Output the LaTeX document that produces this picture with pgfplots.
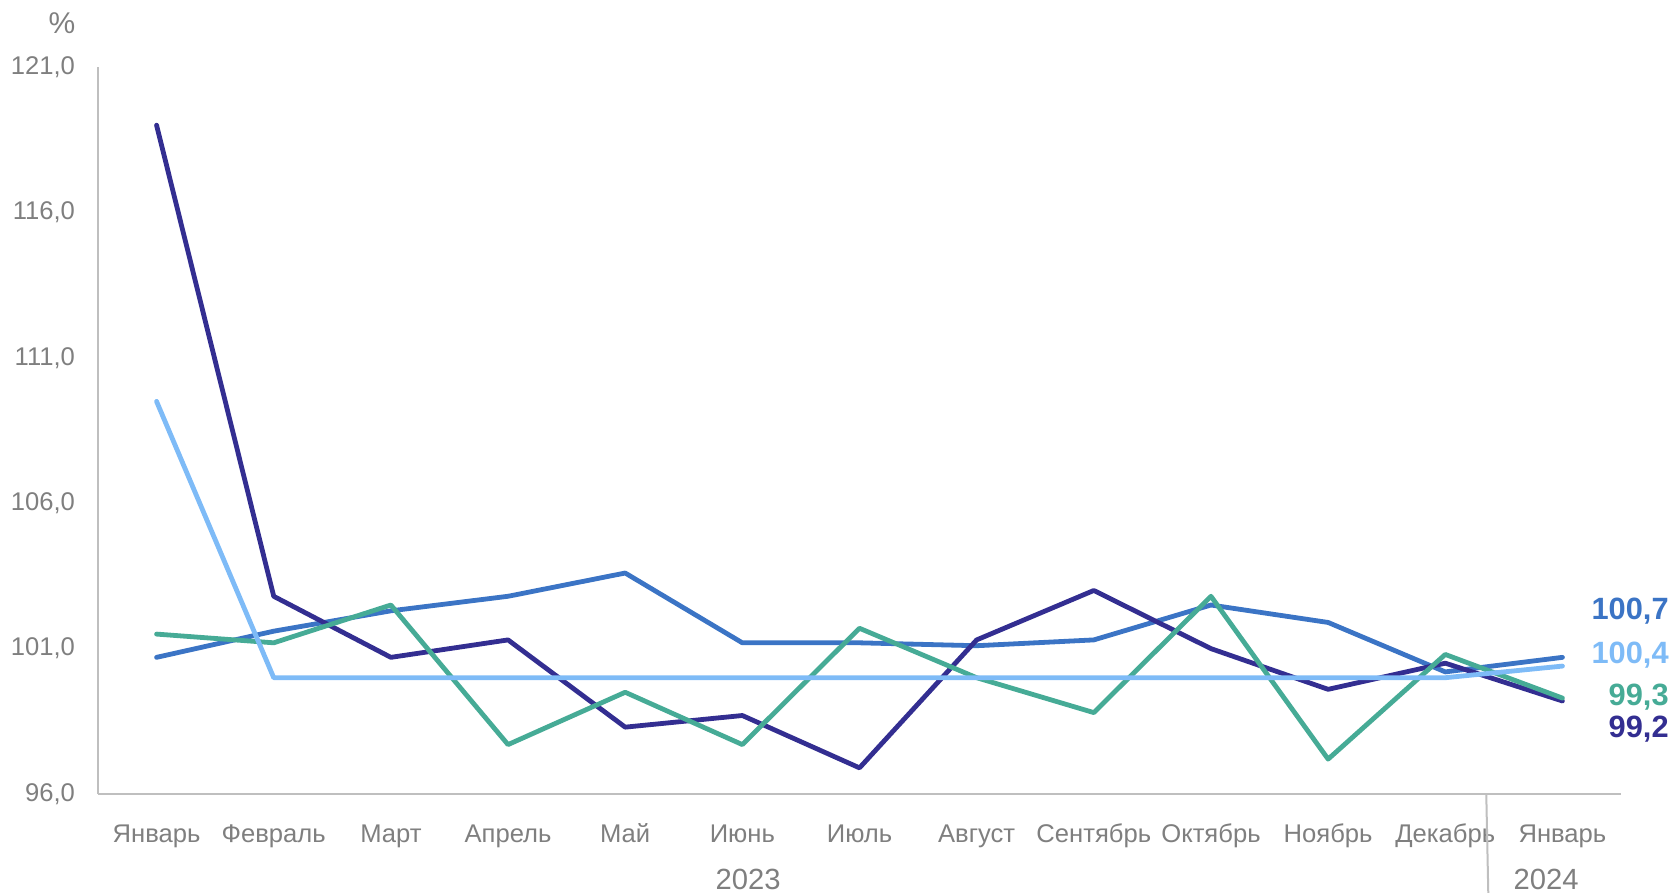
\documentclass[border=0pt]{standalone}
\usepackage{fontspec}
\setmainfont{Liberation Sans}
\usepackage{pgfplots}
\pgfplotsset{compat=1.18}
\definecolor{cnavy}{HTML}{332E91}
\definecolor{cblue}{HTML}{3B74C5}
\definecolor{clight}{HTML}{7EBBF7}
\definecolor{cteal}{HTML}{46AB96}
\definecolor{tgray}{HTML}{7F7F7F}
\definecolor{agray}{HTML}{BFBFBF}
\begin{document}
\begin{tikzpicture}
\useasboundingbox (-49pt,-49.5pt) rectangle (788.5pt,397pt);
\begin{axis}[
  at={(0,0)}, anchor=south west,
  scale only axis, width=761.5pt, height=363.5pt,
  xmin=-0.5, xmax=12.5, ymin=96, ymax=121,
  ytick={96,101,106,111,116,121},
  xtick={0,...,12},
  xticklabels={Январь,Февраль,Март,Апрель,Май,Июнь,Июль,Август,Сентябрь,Октябрь,Ноябрь,Декабрь,Январь},
  axis x line*=bottom, axis y line*=left,
  axis line style={agray, line width=1pt, -},
  major tick length=0pt,
  tick label style={font=\fontsize{12.8}{14}\selectfont, text=tgray},
  xticklabel style={anchor=base, yshift=-24pt},
  yticklabel style={xshift=-8pt},
  /pgf/number format/.cd, fixed, fixed zerofill, precision=1, use comma, assume math mode=true,
  /pgfplots/.cd,
  clip=false,
  every axis plot/.append style={line width=2.4pt, line join=round, line cap=round, mark=none},
]
\addplot[cblue] coordinates {(0,100.7)(1,101.6)(2,102.3)(3,102.8)(4,103.6)(5,101.2)(6,101.2)(7,101.1)(8,101.3)(9,102.5)(10,101.9)(11,100.2)(12,100.7)};
\addplot[cnavy] coordinates {(0,119.0)(1,102.8)(2,100.7)(3,101.3)(4,98.3)(5,98.7)(6,96.9)(7,101.3)(8,103.0)(9,101.0)(10,99.6)(11,100.5)(12,99.2)};
\addplot[cteal] coordinates {(0,101.5)(1,101.2)(2,102.5)(3,97.7)(4,99.5)(5,97.7)(6,101.7)(7,100.0)(8,98.8)(9,102.8)(10,97.2)(11,100.8)(12,99.3)};
\addplot[clight] coordinates {(0,109.5)(1,100.0)(2,100.0)(3,100.0)(4,100.0)(5,100.0)(6,100.0)(7,100.0)(8,100.0)(9,100.0)(10,100.0)(11,100.0)(12,100.4)};
\node[anchor=east, font=\fontsize{15.4}{17}\selectfont\bfseries, text=cblue, inner sep=0pt] at (axis cs:12.91,102.29) {100,7};
\node[anchor=east, font=\fontsize{15.4}{17}\selectfont\bfseries, text=clight, inner sep=0pt] at (axis cs:12.91,100.79) {100,4};
\node[anchor=east, font=\fontsize{15.4}{17}\selectfont\bfseries, text=cteal, inner sep=0pt] at (axis cs:12.91,99.32) {99,3};
\node[anchor=east, font=\fontsize{15.4}{17}\selectfont\bfseries, text=cnavy, inner sep=0pt] at (axis cs:12.91,98.22) {99,2};
\draw[agray, line width=1pt] (axis cs:11.35,96) -- ++(0,-49.5pt);
\node[font=\fontsize{14.6}{16}\selectfont, text=tgray, inner sep=0pt] at (axis cs:5.05,96) [yshift=-42.5pt] {2023};
\node[font=\fontsize{14.6}{16}\selectfont, text=tgray, inner sep=0pt] at (axis cs:11.86,96) [yshift=-42.5pt] {2024};
\node[font=\fontsize{15}{17}\selectfont, text=tgray, inner sep=0pt] at (rel axis cs:0,1) [xshift=-18pt, yshift=21.75pt] {\%};
\end{axis}
\end{tikzpicture}
\end{document}
